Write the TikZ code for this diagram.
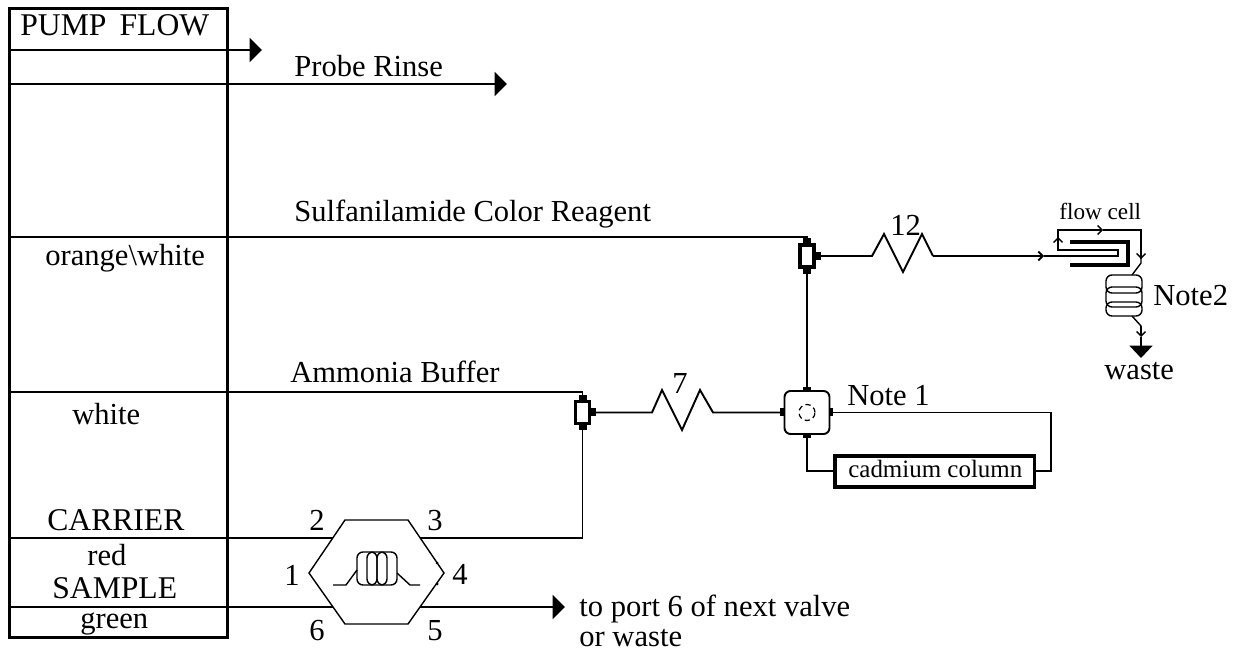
\documentclass[tikz,border=0pt]{standalone}
\usepackage{fontspec}
\setmainfont{Liberation Serif}
\usetikzlibrary{arrows.meta}
\tikzset{
  pipe/.style={line width=1.1pt},
  thinpipe/.style={line width=0.8pt},
  bigtip/.style={-{Triangle[length=7pt,width=13.6pt]}},
  smalltip/.style={-{Straight Barb[length=2.5pt,width=5pt]}},
  lbl/.style={font=\fontsize{17.4}{20}\selectfont,inner sep=0pt,anchor=base west},
  caplbl/.style={font=\fontsize{18}{20}\selectfont,inner sep=0pt,anchor=base west},
  tinylbl/.style={font=\fontsize{13.2}{15}\selectfont,inner sep=0pt,anchor=base west},
  tee/.style={draw,line width=2.2pt,inner sep=0pt,minimum width=0.28cm,minimum height=0.44cm}
}
\begin{document}
\begin{tikzpicture}[x=0.02cm,y=-0.02cm]
\useasboundingbox (0,0) rectangle (1243,651);
% Pump box
\node[draw,line width=1.8pt,inner sep=0pt,minimum width=4.36cm,minimum height=12.58cm,anchor=north west] (pump) at (8,7) {};
\node[caplbl] (pumpflow) at (20,36) {PUMP\ \,FLOW};

% Pump tubes
\coordinate (endA) at (262,50);
\coordinate (endB) at (507,84);
\draw[pipe,bigtip] (pump.west |- endA) -- (endA);
\draw[pipe,bigtip] (pump.west |- endB) -- (endB);
\node[lbl] (rinse) at (294,77) {Probe Rinse};
\node[lbl] (sulfa) at (294,222) {Sulfanilamide Color Reagent};
\node[lbl] (orange) at (45,266) {orange\textbackslash white};
\node[lbl] (ammonia) at (290,383) {Ammonia Buffer};
\node[lbl] (white) at (72,424) {white};
\node[caplbl] (carrier) at (47,530) {CARRIER};
\node[lbl] (red) at (87,565) {red};
\node[caplbl] (sample) at (52,598) {SAMPLE};
\node[lbl] (green) at (80,628) {green};

% Fittings
\node[tee] (teeB) at (582.5,412.5) {};
\node[tee] (teeC) at (807,256) {};
\foreach \t in {teeB,teeC} {
  \fill (\t.north) ++(-4,-5) rectangle ++(8,5);
  \fill (\t.south) ++(-4,0) rectangle ++(8,5);
  \fill (\t.east) ++(0,-4) rectangle ++(5,8);
}
\node[draw,pipe,rounded corners=0.12cm,inner sep=0pt,minimum width=0.9cm,minimum height=0.86cm] (mix) at (807,412.5) {};
\node[draw,densely dashed,line width=0.7pt,circle,inner sep=0pt,minimum size=0.32cm] (mixring) at (mix.center) {};
\fill (mix.north) ++(-4,-3) rectangle ++(8,4);
\fill (mix.south) ++(-4,-1) rectangle ++(8,4);
\fill (mix.east) ++(-1,-4) rectangle ++(4,8);
\fill (mix.west) ++(-4,-4) rectangle ++(4,8);
\node[draw,line width=2pt,inner sep=0pt,minimum width=4cm,minimum height=0.62cm,anchor=north west] (column) at (833,454) {};
\node[lbl,font=\fontsize{14.2}{16}\selectfont] (columntext) at (848,477) {cadmium column};
\node[lbl] (note1) at (847,406) {Note 1};

% Reagent lines
\draw[pipe] (pump.west |- 0,237) -| (teeC.north);
\draw[pipe] (pump.west |- 0,392) -| (teeB.north);
\draw[pipe] (teeC.south) -- (mix.north);

% Reaction coil 7
\coordinate (coilSa) at (652,412.5);
\coordinate (coilSb) at (713,412.5);
\draw[pipe] (teeB.east) -- (coilSa) -- (662,390) -- (682,430) -- (700,390) -- (coilSb) -- (mix.west);
\node[lbl] (seven) at (672,394) {7};

% Reaction coil 12
\coordinate (coilTa) at (872,256);
\coordinate (coilTb) at (933,256);
\coordinate (cellIn) at (1044,256);
\draw[pipe] (teeC.east) -- (coilTa) -- (884,234) -- (903,272) -- (922,234) -- (coilTb);
\draw[pipe,smalltip] (coilTb) -- (cellIn);
\node[lbl] (twelve) at (890,236) {12};

% Column loop
\draw[pipe] (mix.east) -- (1051,412.5) |- (column.east);
\draw[pipe] (mix.south) |- (column.west);

% Flow cell
\coordinate (cellA) at (1118,250);
\coordinate (cellB) at (1058,250);
\coordinate (cellC) at (1058,237);
\coordinate (cellD) at (1058,230);
\coordinate (cellE) at (1103,230);
\coordinate (cellF) at (1141,230);
\coordinate (cellG) at (1141,259);
\coordinate (cellH) at (1141,263);
\coordinate (coilNa) at (1132,275);
\coordinate (coilNb) at (1132,316);
\coordinate (coilNc) at (1141,326);
\coordinate (coilNd) at (1141,337);
\coordinate (wasteTip) at (1141,358);
\draw[thinpipe] (cellIn) -- (1118,256) -- (cellA) -- (cellB) -- (cellC);
\draw[thinpipe,smalltip] (cellB) -- (cellC);
\draw[thinpipe,smalltip] (cellC) -- (cellD) -- (cellE);
\draw[thinpipe] (cellE) -- (cellF) -- (cellG);
\draw[thinpipe,smalltip] (cellF) -- (cellG);
\draw[thinpipe] (cellG) -- (cellH) -- (coilNa);
\draw[line width=2.2pt] (1070,242) -- (1128,242) -- (1128,265) -- (1070,265);
\node[tinylbl] (flowcell) at (1059,220) {flow cell};

% Note 2 coil
\draw[thinpipe,rounded corners=0.12cm] (1106,275) rectangle (1142,293);
\draw[thinpipe,rounded corners=0.12cm] (1106,287) rectangle (1142,307);
\draw[thinpipe,rounded corners=0.12cm] (1106,302) rectangle (1142,316);
\node[lbl] (note2) at (1153,306) {Note2};
\draw[thinpipe] (coilNb) -- (coilNc);
\draw[thinpipe,smalltip] (coilNc) -- (coilNd);
\draw[thinpipe,-{Triangle[length=7pt,width=13pt]}] (coilNd) -- (wasteTip);
\node[lbl] (waste) at (1104,379) {waste};

% Sample valve
\coordinate (valveA) at (309,573);
\coordinate (valveB) at (345,520);
\coordinate (valveC) at (408,520);
\coordinate (valveD) at (444,573);
\coordinate (valveE) at (408,624);
\coordinate (valveF) at (345,624);
\draw[thinpipe] (valveA) -- (valveB) -- (valveC) -- (valveD) -- (valveE) -- (valveF) -- cycle;
\fill (437,563) circle (1.5);
\fill (437,584) circle (1.5);
\foreach \x in {357,367,377}
  \draw[thinpipe,rounded corners=0.12cm] (\x,552) rectangle ++(20,33);
\draw[thinpipe] (333,585) -- (346,585) -- (357,570);
\draw[thinpipe] (397,573) -- (410,585) -- (420,585);
\coordinate (portA) at (333,538);
\coordinate (portB) at (420,538);
\coordinate (portC) at (333,607);
\coordinate (portD) at (420,607);
\coordinate (endC) at (565,607);
\draw[pipe] (pump.west |- portA) -- (portA);
\draw[pipe] (pump.west |- portC) -- (portC);
\draw[pipe] (portB) -| (teeB.south);
\draw[pipe,bigtip] (portD) -- (endC);
\node[lbl] (portone) at (284,585) {1};
\node[lbl] (porttwo) at (309,530) {2};
\node[lbl] (portthree) at (427,530) {3};
\node[lbl] (portfour) at (452,584) {4};
\node[lbl] (portfive) at (427,640) {5};
\node[lbl] (portsix) at (309,640) {6};
\node[lbl] (nextvalve) at (579,616) {to port 6 of next valve};
\node[lbl] (orwaste) at (579,646) {or waste};
\end{tikzpicture}
\end{document}
